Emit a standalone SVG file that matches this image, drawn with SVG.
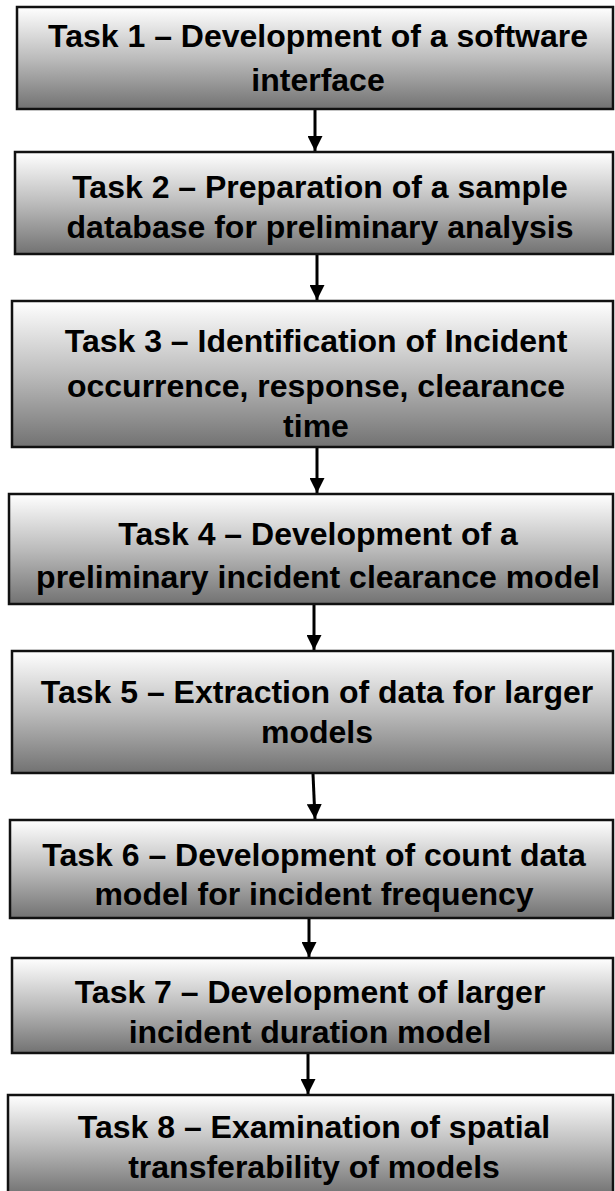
<svg xmlns="http://www.w3.org/2000/svg" width="615" height="1191" viewBox="0 0 615 1191">
<defs>
<linearGradient id="g" x1="0" y1="0" x2="0" y2="1">
<stop offset="0" stop-color="#ffffff"/>
<stop offset="0.5" stop-color="#bcbcbc"/>
<stop offset="1" stop-color="#727272"/>
</linearGradient>
<marker id="ah" viewBox="0 0 10 10" refX="10" refY="5" markerWidth="5" markerHeight="5" markerUnits="strokeWidth" orient="auto">
<path d="M0,0 L10,5 L0,10 z" fill="#000"/>
</marker>
<style>
.box{fill:url(#g);stroke:#111;stroke-width:2.5}
.t{font-family:"Liberation Sans",Arial,sans-serif;font-weight:bold;font-size:32px;fill:#000;text-anchor:middle}
.c{stroke:#000;stroke-width:3;fill:none}
</style>
</defs>
<rect width="615" height="1191" fill="#fff"/>
<g id="connectors">
<line class="c" x1="315" y1="110" x2="315" y2="151" marker-end="url(#ah)"/>
<line class="c" x1="317" y1="255" x2="317" y2="300" marker-end="url(#ah)"/>
<line class="c" x1="317" y1="448" x2="317" y2="493" marker-end="url(#ah)"/>
<line class="c" x1="314" y1="605" x2="314" y2="650" marker-end="url(#ah)"/>
<line class="c" x1="313" y1="774" x2="315" y2="819" marker-end="url(#ah)"/>
<line class="c" x1="309" y1="919" x2="309" y2="957" marker-end="url(#ah)"/>
<line class="c" x1="308" y1="1054" x2="308" y2="1094" marker-end="url(#ah)"/>
</g>
<g id="task1"><rect class="box" x="17" y="7" width="596" height="102"/>
<text class="t" x="318" y="47">Task 1 – Development of a software</text>
<text class="t" x="318" y="91">interface</text></g>
<g id="task2"><rect class="box" x="15" y="152" width="598" height="102"/>
<text class="t" x="320" y="198">Task 2 – Preparation of a sample</text>
<text class="t" x="320" y="238">database for preliminary analysis</text></g>
<g id="task3"><rect class="box" x="12" y="301" width="601" height="146"/>
<text class="t" x="316" y="352">Task 3 – Identification of Incident</text>
<text class="t" x="316" y="397">occurrence, response, clearance</text>
<text class="t" x="316" y="437">time</text></g>
<g id="task4"><rect class="box" x="9" y="494" width="604" height="110"/>
<text class="t" x="318" y="545">Task 4 – Development of a</text>
<text class="t" x="318" y="588">preliminary incident clearance model</text></g>
<g id="task5"><rect class="box" x="12" y="651" width="601" height="122"/>
<text class="t" x="317" y="703">Task 5 – Extraction of data for larger</text>
<text class="t" x="317" y="743">models</text></g>
<g id="task6"><rect class="box" x="10" y="820" width="603" height="98"/>
<text class="t" x="314" y="866">Task 6 – Development of count data</text>
<text class="t" x="314" y="905">model for incident frequency</text></g>
<g id="task7"><rect class="box" x="12" y="958" width="601" height="95"/>
<text class="t" x="310" y="1003">Task 7 – Development of larger</text>
<text class="t" x="310" y="1043">incident duration model</text></g>
<g id="task8"><rect class="box" x="8" y="1095" width="605" height="100"/>
<text class="t" x="314" y="1138">Task 8 – Examination of spatial</text>
<text class="t" x="314" y="1178">transferability of models</text></g>
</svg>
